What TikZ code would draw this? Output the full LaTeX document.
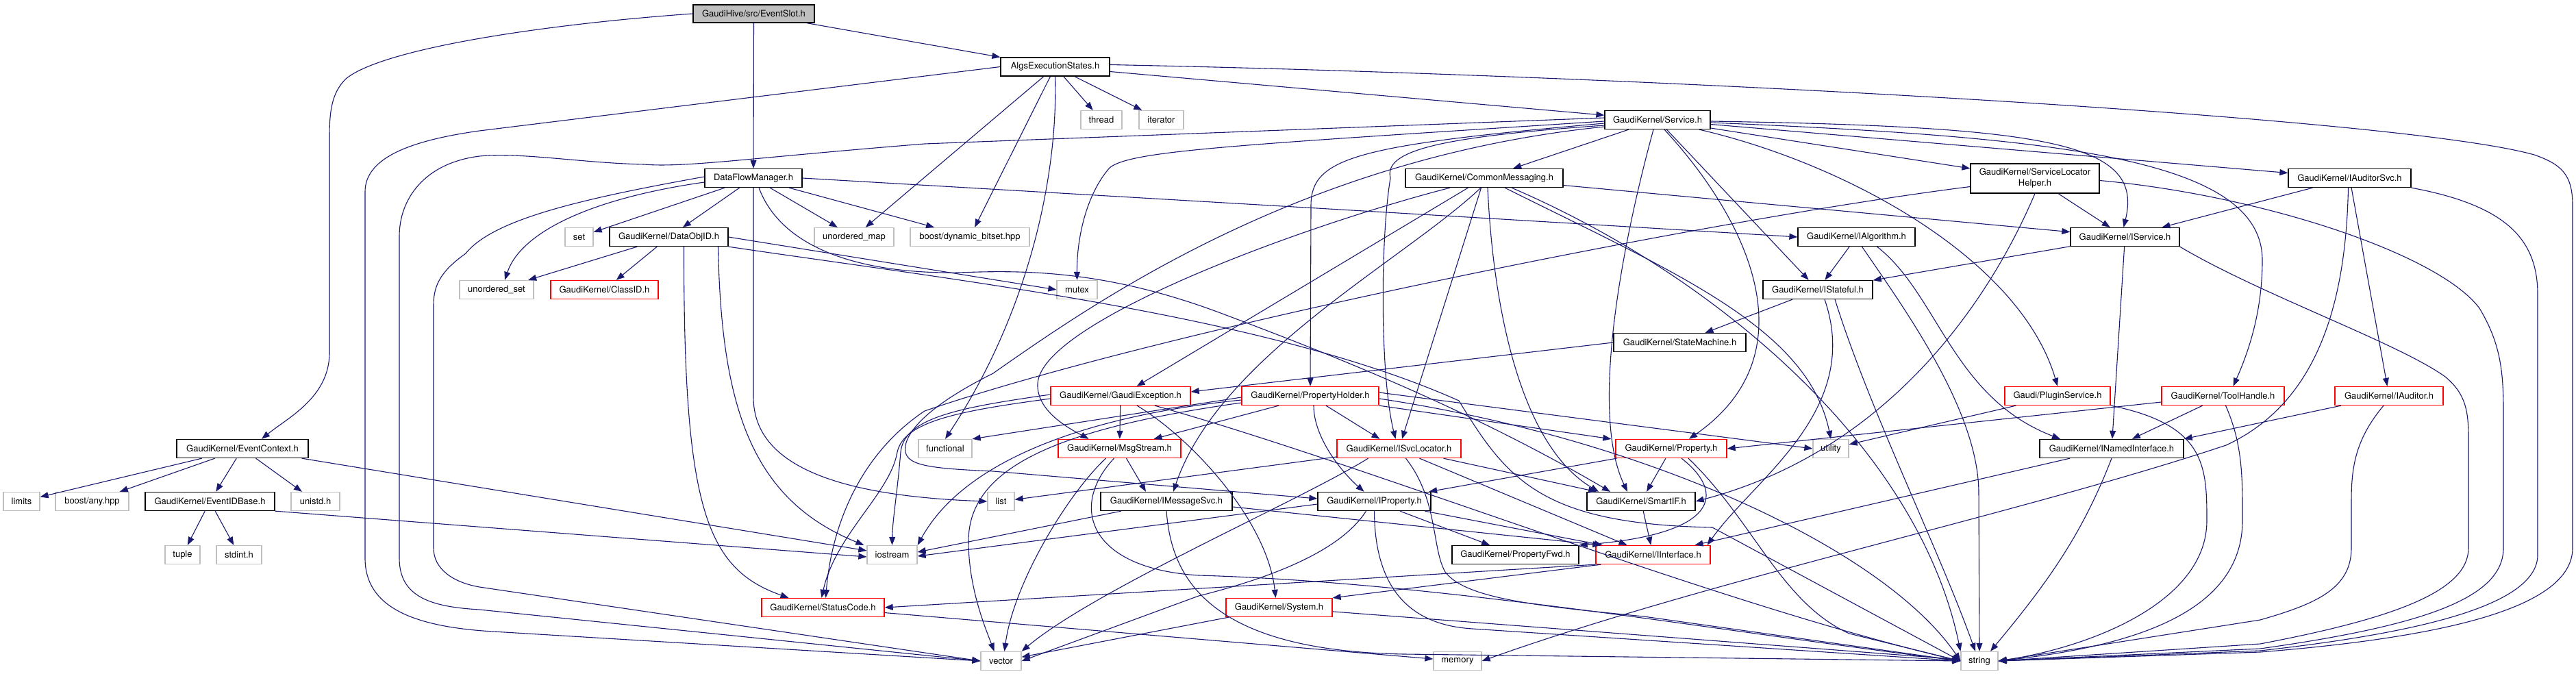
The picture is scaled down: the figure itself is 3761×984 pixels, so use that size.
\documentclass[tikz,border=0pt]{standalone}
\usepackage{fontspec}
\setmainfont{TeX Gyre Heros}
\usetikzlibrary{arrows.meta}
\definecolor{edgec}{HTML}{191970}
\definecolor{grayc}{HTML}{BFBFBF}
\begin{document}
\begin{tikzpicture}[x=1pt,y=-1pt,
 box/.style={rectangle,inner sep=0pt,minimum height=27pt,line width=1.3pt,font=\fontsize{13}{16}\selectfont,text=black},
 nb/.style={box,draw=black},
 ng/.style={box,draw=grayc},
 nr/.style={box,draw=red},
 edg/.style={draw=edgec,line width=1.1pt,-{Triangle[length=12pt,width=9pt]}}]
\fill[white] (0,0) rectangle (3761,984);
\useasboundingbox (0,0) rectangle (3761,984);
% ---------------- nodes ----------------
\node[nb,fill=grayc,minimum width=177pt,minimum height=26pt] (slot) at (1100.5,20) {GaudiHive/src/EventSlot.h};
\node[nb,minimum width=159pt] (algs) at (1540.5,97.5) {AlgsExecutionStates.h};
\node[ng,minimum width=60pt] (thread) at (1608,175) {thread};
\node[ng,minimum width=65pt] (iterator) at (1695.5,175) {iterator};
\node[nb,minimum width=154pt] (svc) at (2420,175) {GaudiKernel/Service.h};
\node[nb,minimum width=142pt] (dfm) at (1100,260) {DataFlowManager.h};
\node[nb,minimum width=230pt] (cmsg) at (2167,260) {GaudiKernel/CommonMessaging.h};
\node[nb,minimum width=188pt,minimum height=43pt,align=center] (slh) at (2971,260.5) {GaudiKernel/ServiceLocator\\Helper.h};
\node[nb,minimum width=179pt] (audsvc) at (3430.5,260) {GaudiKernel/IAuditorSvc.h};
\node[ng,minimum width=41pt] (set) at (845.5,346) {set};
\node[nb,minimum width=173pt] (dataobj) at (976.5,346) {GaudiKernel/DataObjID.h};
\node[ng,minimum width=116pt] (umap) at (1247,346) {unordered\_map};
\node[ng,minimum width=174pt] (bitset) at (1416,346) {boost/dynamic\_bitset.hpp};
\node[nb,minimum width=171pt] (ialg) at (2710.5,346) {GaudiKernel/IAlgorithm.h};
\node[nb,minimum width=159pt] (isvc) at (3102.5,346) {GaudiKernel/IService.h};
\node[ng,minimum width=108pt] (uset) at (725,423) {unordered\_set};
\node[nr,minimum width=157pt] (classid) at (882.5,423) {GaudiKernel/ClassID.h};
\node[ng,minimum width=59pt] (mutex) at (1572.5,423) {mutex};
\node[nb,minimum width=160pt] (istate) at (2654,423) {GaudiKernel/IStateful.h};
\node[nb,minimum width=193pt] (smach) at (2452.5,500) {GaudiKernel/StateMachine.h};
\node[nr,minimum width=204pt] (gexc) at (1636,578) {GaudiKernel/GaudiException.h};
\node[nr,minimum width=200pt] (pholder) at (1913,578) {GaudiKernel/PropertyHolder.h};
\node[nr,minimum width=154pt] (plugin) at (3004,578) {Gaudi/PluginService.h};
\node[nr,minimum width=179pt] (tool) at (3245.5,578) {GaudiKernel/ToolHandle.h};
\node[nr,minimum width=158pt] (iaud) at (3488,578) {GaudiKernel/IAuditor.h};
\node[nb,minimum width=192pt] (evctx) at (354,655) {GaudiKernel/EventContext.h};
\node[ng,minimum width=78pt] (functional) at (1380,655) {functional};
\node[nr,minimum width=179pt] (msgs) at (1634.5,655) {GaudiKernel/MsgStream.h};
\node[nr,minimum width=181pt] (isvcloc) at (2042.5,655) {GaudiKernel/ISvcLocator.h};
\node[nr,minimum width=162pt] (prop) at (2440,655) {GaudiKernel/Property.h};
\node[ng,minimum width=52pt] (utility) at (2673,655) {utility};
\node[nb,minimum width=210pt] (inamed) at (3083,655) {GaudiKernel/INamedInterface.h};
\node[ng,minimum width=53pt] (limits) at (31.5,732) {limits};
\node[ng,minimum width=107pt] (anyhpp) at (134.5,732) {boost/any.hpp};
\node[nb,minimum width=189pt] (evid) at (306.5,732) {GaudiKernel/EventIDBase.h};
\node[ng,minimum width=71pt] (unistd) at (460.5,732) {unistd.h};
\node[ng,minimum width=39pt] (list) at (1461.5,732) {list};
\node[nb,minimum width=192pt] (imsgsvc) at (1703,732) {GaudiKernel/IMessageSvc.h};
\node[nb,minimum width=165pt] (iprop) at (2006.5,732) {GaudiKernel/IProperty.h};
\node[nb,minimum width=158pt] (smartif) at (2396,732) {GaudiKernel/SmartIF.h};
\node[ng,minimum width=51pt] (tuple) at (266.5,810) {tuple};
\node[ng,minimum width=66pt] (stdint) at (349,810) {stdint.h};
\node[ng,minimum width=73pt] (iostream) at (1302.5,810) {iostream};
\node[nb,minimum width=185pt] (propfwd) at (2212.5,810) {GaudiKernel/PropertyFwd.h};
\node[nr,minimum width=167pt] (iiface) at (2413.5,810) {GaudiKernel/IInterface.h};
\node[nr,minimum width=179pt] (status) at (1201.5,887) {GaudiKernel/StatusCode.h};
\node[nr,minimum width=155pt] (system) at (1867.5,887) {GaudiKernel/System.h};
\node[ng,minimum width=59pt] (vector) at (1461.5,965) {vector};
\node[ng,minimum width=70pt] (memory) at (2128,965) {memory};
\node[ng,minimum width=54pt] (string) at (2890,965) {string};
% ---------------- edges ----------------
% EventSlot
\draw[edg] (slot) -- (algs);
\draw[edg] (slot) -- (dfm);
\draw[edg] (slot.west) .. controls (800,35) and (560,70) .. (505,115) .. controls (485,135) and (481,160) .. (481,200) -- (481,515) .. controls (481,580) and (420,610) .. ([xshift=28pt]evctx.north);
% AlgsExecutionStates
\draw[edg] (algs) -- (svc);
\draw[edg] (algs) -- (thread);
\draw[edg] (algs) -- (iterator);
\draw[edg] (algs) -- (umap);
\draw[edg] (algs) -- (bitset);
\draw[edg] (algs.south) .. controls (1545,260) and (1500,460) .. (functional.north);
\draw[edg] (algs.west) -- (700,191) .. controls (600,205) and (533,230) .. (533,280) -- (533,815) .. controls (533,885) and (600,915) .. (720,922) -- (vector.west);
\draw[edg] ([yshift=3pt]algs.east) .. controls (2400,110) and (3500,170) .. (3700,226) .. controls (3740,240) and (3756,255) .. (3756,300) -- (3756,800) .. controls (3756,880) and (3600,928) .. (3300,952) -- (string.east);
% DataFlowManager
\draw[edg] (dfm) -- (set);
\draw[edg] (dfm) -- (dataobj);
\draw[edg] (dfm) -- (umap);
\draw[edg] (dfm) -- (bitset);
\draw[edg] ([yshift=-6pt]dfm.west) .. controls (860,290) and (760,340) .. ([xshift=12pt]uset.north);
\draw[edg] ([yshift=2pt]dfm.west) .. controls (850,290) and (720,320) .. (680,370) .. controls (645,395) and (633,415) .. (633,445) -- (633,800) .. controls (633,830) and (660,850) .. (700,857) -- (vector.west);
\draw[edg] (dfm.south) -- (1100,580) .. controls (1100,690) and (1250,725) .. (list.west);
\draw[edg] (dfm.east) .. controls (1600,285) and (2200,320) .. (ialg.west);
\draw[edg] ([xshift=8pt]dfm.south) .. controls (1140,360) and (1250,400) .. (1400,398) .. controls (1500,394) and (1620,395) .. (1790,460) .. controls (1950,520) and (2150,600) .. ([xshift=-45pt]smartif.north);
% DataObjID
\draw[edg] (dataobj) -- (uset);
\draw[edg] (dataobj) -- (classid);
\draw[edg] ([xshift=22pt]dataobj.south) .. controls (998,740) and (1030,830) .. ([xshift=-50pt]status.north);
\draw[edg] ([xshift=72pt]dataobj.south) .. controls (1053,600) and (1100,730) .. ([xshift=-4pt]iostream.north west);
\draw[edg] (dataobj.east) -- (mutex.west);
\draw[edg] (dataobj.south east) .. controls (1400,410) and (1850,460) .. (2130,585) .. controls (2200,700) and (2250,765) .. (2500,770) -- (string.west);
% EventContext / EventIDBase
\draw[edg] (evctx) -- (limits);
\draw[edg] (evctx) -- (anyhpp);
\draw[edg] (evctx) -- (evid);
\draw[edg] (evctx) -- (unistd);
\draw[edg] (evctx) -- (iostream);
\draw[edg] (evid) -- (tuple);
\draw[edg] (evid) -- (stdint);
\draw[edg] (evid.south east) -- ([yshift=-3pt]iostream.west);
% Service
\draw[edg] (svc) -- (cmsg);
\draw[edg] (svc) -- (slh);
\draw[edg] (svc) -- (audsvc);
\draw[edg] ([yshift=-2pt]svc.east) .. controls (3000,185) and (3130,210) .. ([xshift=-2pt]isvc.north);
\draw[edg] (svc) -- (istate);
\draw[edg] ([yshift=-5pt]svc.west) .. controls (1980,212) and (1914,230) .. (1914,300) -- (pholder.north);
\draw[edg] (svc) .. controls (2700,240) and (2950,380) .. (plugin.north);
\draw[edg] ([yshift=-4pt]svc.east) .. controls (3000,200) and (3303,230) .. (3303,380) .. controls (3303,460) and (3280,520) .. ([xshift=15pt]tool.north);
\draw[edg] ([yshift=-8pt]svc.west) .. controls (2100,200) and (2020,220) .. (2030,260) .. controls (2015,350) and (2015,550) .. ([xshift=-5pt]isvcloc.north);
\draw[edg] ([xshift=10pt]svc.south) .. controls (2560,330) and (2640,520) .. ([xshift=26pt]prop.north);
\draw[edg] ([xshift=-6pt]svc.south) .. controls (2370,350) and (2320,600) .. ([xshift=-20pt]smartif.north);
\draw[edg] ([yshift=-2pt]svc.west) .. controls (1800,212) and (1650,220) .. (1620,245) .. controls (1585,285) and (1572,350) .. (mutex.north);
\draw[edg] ([yshift=3pt]svc.west) -- (1350,210) .. controls (1100,230) and (1000,245) .. (940,240) .. controls (850,238) and (760,222) .. (700,228) .. controls (620,238) and (583,290) .. (583,345) -- (583,815) .. controls (583,872) and (630,886) .. (700,890) -- (vector.west);
\draw[edg] ([yshift=-10pt]svc.west) .. controls (1900,230) and (1600,440) .. (1450,545) .. controls (1340,600) and (1318,640) .. (1322,660) .. controls (1326,680) and (1360,684) .. (1450,688) -- ([yshift=4pt]iprop.west);
% CommonMessaging
\draw[edg] (cmsg) -- (isvc);
\draw[edg] (cmsg) -- (gexc);
\draw[edg] ([xshift=-50pt]cmsg.south) .. controls (1900,330) and (1520,470) .. (1515,560) .. controls (1513,600) and (1560,625) .. ([xshift=-45pt]msgs.north);
\draw[edg] ([xshift=-5pt]cmsg.south) .. controls (2050,380) and (1780,520) .. ([xshift=10pt]imsgsvc.north);
\draw[edg] (cmsg) -- (isvcloc);
\draw[edg] ([xshift=5pt]cmsg.south) .. controls (2180,450) and (2220,650) .. ([xshift=-62pt]smartif.north);
\draw[edg] ([xshift=30pt]cmsg.south) .. controls (2450,400) and (2640,480) .. (utility.north);
\draw[edg] ([xshift=40pt]cmsg.south) .. controls (2500,400) and (2800,650) .. (string.north west);
% ServiceLocatorHelper
\draw[edg] (slh) -- (isvc);
\draw[edg] (slh.south) .. controls (2900,450) and (2750,660) .. (smartif.east);
\draw[edg] ([yshift=-3pt]slh.east) .. controls (3300,285) and (3560,370) .. (3620,450) .. controls (3650,500) and (3655,540) .. (3655,600) -- (3655,800) .. controls (3655,870) and (3550,912) .. (3300,947) -- (string.east);
\draw[edg] ([yshift=-12pt]slh.west) .. controls (2500,320) and (1700,480) .. (1350,600) .. controls (1260,660) and (1215,760) .. ([xshift=4pt]status.north);
% IAuditorSvc
\draw[edg] (audsvc) -- (isvc);
\draw[edg] (audsvc) -- (iaud);
\draw[edg] (audsvc.south east) .. controls (3660,300) and (3705,350) .. (3705,430) -- (3705,810) .. controls (3705,880) and (3550,922) .. (3300,950) -- (string.east);
\draw[edg] ([xshift=-2pt]audsvc.south) .. controls (3425,450) and (3380,590) .. (3250,650) .. controls (2950,750) and (2500,845) .. (memory.east);
% IAlgorithm
\draw[edg] (ialg) -- (istate);
\draw[edg] ([xshift=30pt]ialg.south) .. controls (2830,430) and (2850,580) .. ([xshift=-75pt]inamed.north);
\draw[edg] ([xshift=8pt]ialg.south) .. controls (2780,450) and (2889,600) .. (2889,720) -- (string.north);
% IService
\draw[edg] (isvc) -- (istate);
\draw[edg] (isvc) -- (inamed);
\draw[edg] (isvc.south east) .. controls (3300,430) and (3500,500) .. (3570,550) .. controls (3600,575) and (3604,600) .. (3604,640) -- (3604,800) .. controls (3604,862) and (3500,902) .. (3300,940) -- (string.east);
% IStateful / StateMachine
\draw[edg] (istate) -- (smach);
\draw[edg] ([xshift=10pt]istate.south) .. controls (2720,600) and (2560,700) .. ([xshift=-5pt]iiface.north east);
\draw[edg] ([xshift=25pt]istate.south) .. controls (2730,600) and (2830,800) .. ([xshift=-6pt]string.north);
\draw[edg] (smach.west) -- ([yshift=6pt]gexc.east);
% GaudiException
\draw[edg] (gexc) -- (msgs);
\draw[edg] ([xshift=24pt]gexc.south) .. controls (1740,640) and (1850,760) .. ([xshift=-5pt]system.north);
\draw[edg] ([xshift=50pt]gexc.south) .. controls (2000,680) and (2500,880) .. (string.west);
\draw[edg] ([yshift=2pt]gexc.west) .. controls (1400,595) and (1320,610) .. (1315,660) .. controls (1310,720) and (1303,760) .. (iostream.north);
\draw[edg] ([yshift=-4pt]gexc.west) .. controls (1400,600) and (1320,615) .. (1310,660) .. controls (1300,720) and (1220,780) .. ([xshift=-2pt]status.north);
% PropertyHolder
\draw[edg] ([xshift=23pt]pholder.south) -- ([xshift=-28pt]isvcloc.north);
\draw[edg] (pholder.south east) -- ([xshift=-6pt]prop.north west);
\draw[edg] ([xshift=5pt]pholder.south) .. controls (1918,640) and (1960,690) .. ([xshift=-15pt]iprop.north);
\draw[edg] ([xshift=-46pt]pholder.south) -- ([xshift=50pt]msgs.north);
\draw[edg] ([yshift=-2pt]pholder.west) -- (functional.north east);
\draw[edg] ([yshift=-6pt]pholder.west) .. controls (1650,600) and (1420,650) .. (iostream.north east);
\draw[edg] ([yshift=-10pt]pholder.west) .. controls (1550,625) and (1414,680) .. (1414,790) .. controls (1414,860) and (1440,920) .. ([xshift=-10pt]vector.north);
\draw[edg] ([yshift=-4pt]pholder.east) .. controls (2400,640) and (2750,800) .. (string.west);
\draw[edg] ([yshift=5pt]pholder.east) -- (utility.west);
% PluginService / ToolHandle / IAuditor
\draw[edg] (plugin) -- (utility);
\draw[edg] (plugin.south east) .. controls (3220,620) and (3222,680) .. (3222,760) .. controls (3222,880) and (3050,945) .. (string.east);
\draw[edg] (tool) -- (inamed);
\draw[edg] ([xshift=4pt]tool.south) .. controls (3275,650) and (3274,700) .. (3274,760) .. controls (3274,900) and (3100,945) .. (string.east);
\draw[edg] ([yshift=-9pt]tool.west) -- (prop.east);
\draw[edg] ([xshift=-70pt]iaud.south) -- (inamed.north east);
\draw[edg] ([xshift=-8pt]iaud.south) .. controls (3440,640) and (3433,680) .. (3433,730) -- (3433,800) .. controls (3433,860) and (3380,882) .. (3300,905) -- (string.east);
% MsgStream
\draw[edg] ([xshift=10pt]msgs.south) -- ([xshift=-30pt]imsgsvc.north);
\draw[edg] ([xshift=-20pt]msgs.south) .. controls (1560,720) and (1480,850) .. ([xshift=5pt]vector.north);
\draw[edg] ([xshift=-8pt]msgs.south) .. controls (1560,740) and (1590,830) .. (1750,840) .. controls (2100,850) and (2500,920) .. (string.west);
% ISvcLocator
\draw[edg] (isvcloc) -- (list);
\draw[edg] (isvcloc) -- (smartif);
\draw[edg] ([xshift=30pt]isvcloc.south) -- ([xshift=-38pt]iiface.north);
\draw[edg] ([xshift=-45pt]isvcloc.south) .. controls (1900,730) and (1600,860) .. (vector.north east);
\draw[edg] ([xshift=10pt]isvcloc.south) .. controls (2100,730) and (2090,800) .. (2110,835) .. controls (2140,875) and (2250,885) .. (2400,900) -- (string.west);
% Property
\draw[edg] (prop) -- (smartif);
\draw[edg] (prop) -- (iprop);
\draw[edg] ([xshift=15pt]prop.south) .. controls (2520,720) and (2510,780) .. (propfwd.north east);
\draw[edg] ([xshift=25pt]prop.south) .. controls (2560,760) and (2600,880) .. (2700,925) -- (string.west);
% IMessageSvc
\draw[edg] ([xshift=-66pt]imsgsvc.south) -- ([yshift=4pt]iostream.east);
\draw[edg] (imsgsvc.south) .. controls (1710,840) and (1760,950) .. (2050,955) -- (string.west);
\draw[edg] ([yshift=-8pt]imsgsvc.east) -- ([xshift=8pt]iiface.north west);
% IProperty
\draw[edg] (iprop) -- (propfwd);
\draw[edg] (iprop) -- (iiface);
\draw[edg] ([yshift=-4pt]iprop.west) -- ([yshift=-2pt]iostream.east);
\draw[edg] ([xshift=-12pt]iprop.south) .. controls (1960,800) and (1870,840) .. (1750,870) -- (vector.east);
\draw[edg] (iprop.south) .. controls (2007,850) and (2050,912) .. (2150,918) -- (string.west);
% SmartIF, INamedInterface, IInterface, System, StatusCode
\draw[edg] (smartif) -- (iiface);
\draw[edg] (inamed) -- (iiface);
\draw[edg] (inamed.south) .. controls (3040,780) and (2990,850) .. ([xshift=16pt]string.north);
\draw[edg] (iiface.south west) -- (status.east);
\draw[edg] ([xshift=8pt]iiface.south west) -- (system.north east);
\draw[edg] (system) -- (vector);
\draw[edg] (system) -- (string);
\draw[edg] (status) -- (memory);
\end{tikzpicture}
\end{document}
